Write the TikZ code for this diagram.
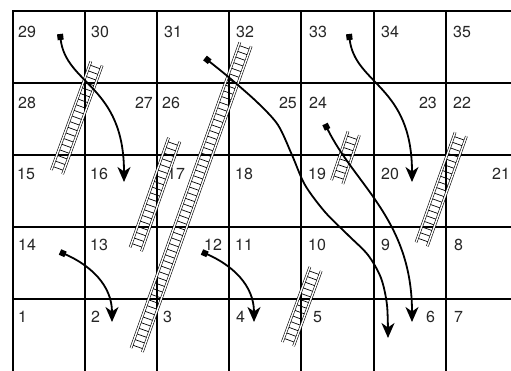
\documentclass[tikz,border=0pt]{standalone}
\usepackage{fontspec}
\setmainfont{TeX Gyre Heros}
\usetikzlibrary{arrows.meta}
\begin{document}
\begin{tikzpicture}[x=1pt,y=-1pt,
  gridline/.style={line width=1.8pt, line cap=rect},
  lbl/.style={inner sep=0pt, font=\fontsize{16}{16}\selectfont, text=black!85},
  lw/.style={lbl, anchor=base west},
  le/.style={lbl, anchor=base east},
  snake/.style={line width=1.8pt, {Square[length=6pt,width=6pt]}-{Stealth[length=15pt,width=13pt,inset=4.5pt]}},
  rail/.style={line width=0.6pt, double=white, double distance=1.4pt},
  rung/.style={line width=0.7pt},
  pics/ladder/.style={code={
    \pgfmathsetmacro\nr{int((#1-4)/6)}
    \pgfmathsetmacro\off{(#1-\nr*6)/2}
    \foreach \i in {0,...,\nr} \draw[rung] ({\off+6*\i},-6) -- ({\off+6*\i},6);
    \draw[rail] (0,-6) -- (#1,-6);
    \draw[rail] (0,6) -- (#1,6);
  }}
]
\useasboundingbox (0,0) rectangle (511,370);
\fill[white] (0,0) rectangle (511,370);
% grid
\foreach \y in {11,83,155,227,299} \draw[gridline] (12.7,\y) -- (512,\y);
\foreach \x in {12.7,84.9,157.1,229.3,301,373.7,445.9} \draw[gridline] (\x,11) -- (\x,372);
% labels row 1
\node[lw] (n29) at (18,37.3) {29};
\node[lw] (n30) at (91,37.3) {30};
\node[lw] (n31) at (164,37.3) {31};
\node[lw] (n32) at (236,37.3) {32};
\node[lw] (n33) at (309,37.3) {33};
\node[lw] (n34) at (381,37.3) {34};
\node[lw] (n35) at (453,37.3) {35};
% row 2
\node[lw] (n28) at (18,108.1) {28};
\node[le] (n27) at (153,108.1) {27};
\node[lw] (n26) at (162,108.1) {26};
\node[le] (n25) at (297,108.1) {25};
\node[lw] (n24) at (309,108.1) {24};
\node[le] (n23) at (437,108.1) {23};
\node[lw] (n22) at (453,108.1) {22};
% row 3
\node[lw] (n15) at (17,179.6) {15};
\node[lw] (n16) at (90,179.6) {16};
\node[lw] (n17) at (167,179.6) {17};
\node[lw] (n18) at (235,179.6) {18};
\node[lw] (n19) at (308,179.6) {19};
\node[lw] (n20) at (381,179.6) {20};
\node[lw] (n21) at (492,179.6) {21};
% row 4
\node[lw] (n14) at (18,250.6) {14};
\node[lw] (n13) at (90,250.6) {13};
\node[lw] (n12) at (204,250.6) {12};
\node[lw] (n11) at (235,250.6) {11};
\node[lw] (n10) at (308,250.6) {10};
\node[lw] (n9) at (381,250.6) {9};
\node[lw] (n8) at (454,250.6) {8};
% row 5
\node[lw] (n1) at (18,322.1) {1};
\node[lw] (n2) at (91,322.1) {2};
\node[lw] (n3) at (163,322.1) {3};
\node[lw] (n4) at (236,322.1) {4};
\node[lw] (n5) at (313,322.1) {5};
\node[lw] (n6) at (426,322.1) {6};
\node[lw] (n7) at (454,322.1) {7};
% ladders
\pic[rotate=70.0] at (57,172) {ladder=115.5};
\pic[rotate=70.41] at (136.7,350) {ladder=324.5};
\pic[rotate=70.67] at (135.8,249.2) {ladder=116};
\pic[rotate=71.28] at (337.2,182) {ladder=51.4};
\pic[rotate=70.43] at (421.7,244.2) {ladder=116.7};
\pic[rotate=69.86] at (288,344) {ladder=79.9};
% snakes
\draw[snake] (60,34) .. controls (66,85) and (124,85) .. (124,182);
\draw[snake] plot[smooth] coordinates {(205,58) (232,80) (258,103) (278,125) (292,155) (305,185) (325,212) (348,235) (368,255) (381,278) (387,305) (388,338)};
\draw[snake] (349,34) .. controls (355,85) and (412,85) .. (412,182);
\draw[snake] (60,252) .. controls (90,265) and (112,285) .. (112,322);
\draw[snake] (202,252) .. controls (232,265) and (254,285) .. (254,322);
\draw[snake] (325,124) .. controls (355,185) and (412,220) .. (412,322);
\end{tikzpicture}
\end{document}
